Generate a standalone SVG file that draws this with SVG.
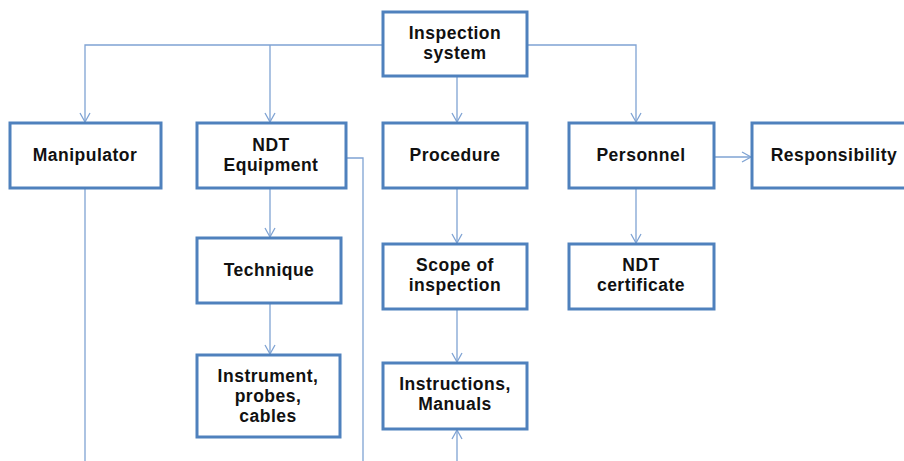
<svg xmlns="http://www.w3.org/2000/svg" width="904" height="461" viewBox="0 0 904 461">
<defs>
<marker id="arr" markerWidth="12" markerHeight="12" refX="10" refY="6" orient="auto" markerUnits="userSpaceOnUse">
<path d="M1,1 L10,6 L1,11" fill="none" stroke="#7FA3D3" stroke-width="1.3"/>
</marker>
<style>
.box{fill:#fff;stroke:#4F81BD;stroke-width:3}
.t{font-family:"Liberation Sans",Arial,sans-serif;font-weight:bold;font-size:17.5px;fill:#111;text-anchor:middle;letter-spacing:0.5px}
.c{fill:none;stroke:#7FA3D3;stroke-width:1.3}
</style>
</defs>
<rect width="904" height="461" fill="#fff"/>
<g id="connectors">
<path class="c" d="M383,45 H85 V122" marker-end="url(#arr)"/>
<path class="c" d="M270,45 V122" marker-end="url(#arr)"/>
<path class="c" d="M457,76 V122" marker-end="url(#arr)"/>
<path class="c" d="M527,45 H636 V122" marker-end="url(#arr)"/>
<path class="c" d="M714,157 H751" marker-end="url(#arr)"/>
<path class="c" d="M85,188 V461"/>
<path class="c" d="M346,158 H363 V461"/>
<path class="c" d="M270,188 V237" marker-end="url(#arr)"/>
<path class="c" d="M270,303 V354" marker-end="url(#arr)"/>
<path class="c" d="M457,188 V243" marker-end="url(#arr)"/>
<path class="c" d="M457,309 V362" marker-end="url(#arr)"/>
<path class="c" d="M636,188 V243" marker-end="url(#arr)"/>
<path class="c" d="M457,461 V430" marker-end="url(#arr)"/>
</g>
<g id="inspection-system"><rect class="box" x="383" y="12" width="144" height="64"/><text class="t" x="455" y="39">Inspection</text><text class="t" x="455" y="59">system</text></g>
<g id="manipulator"><rect class="box" x="10" y="123" width="151" height="65"/><text class="t" x="85" y="161">Manipulator</text></g>
<g id="ndt-equipment"><rect class="box" x="197" y="123" width="149" height="65"/><text class="t" x="271" y="151">NDT</text><text class="t" x="271" y="171">Equipment</text></g>
<g id="procedure"><rect class="box" x="383" y="123" width="144" height="65"/><text class="t" x="455" y="161">Procedure</text></g>
<g id="personnel"><rect class="box" x="569" y="123" width="145" height="65"/><text class="t" x="641" y="161">Personnel</text></g>
<g id="responsibility"><rect class="box" x="752" y="123" width="156" height="65"/><text class="t" x="834" y="161">Responsibility</text></g>
<g id="technique"><rect class="box" x="197" y="238" width="144" height="65"/><text class="t" x="269" y="276">Technique</text></g>
<g id="instrument"><rect class="box" x="197" y="355" width="143" height="82"/><text class="t" x="268" y="382">Instrument,</text><text class="t" x="268" y="402">probes,</text><text class="t" x="268" y="422">cables</text></g>
<g id="scope"><rect class="box" x="383" y="244" width="144" height="65"/><text class="t" x="455" y="271">Scope of</text><text class="t" x="455" y="291">inspection</text></g>
<g id="instructions"><rect class="box" x="383" y="363" width="144" height="66"/><text class="t" x="455" y="390">Instructions,</text><text class="t" x="455" y="410">Manuals</text></g>
<g id="ndt-certificate"><rect class="box" x="569" y="244" width="145" height="65"/><text class="t" x="641" y="271">NDT</text><text class="t" x="641" y="291">certificate</text></g>
</svg>
